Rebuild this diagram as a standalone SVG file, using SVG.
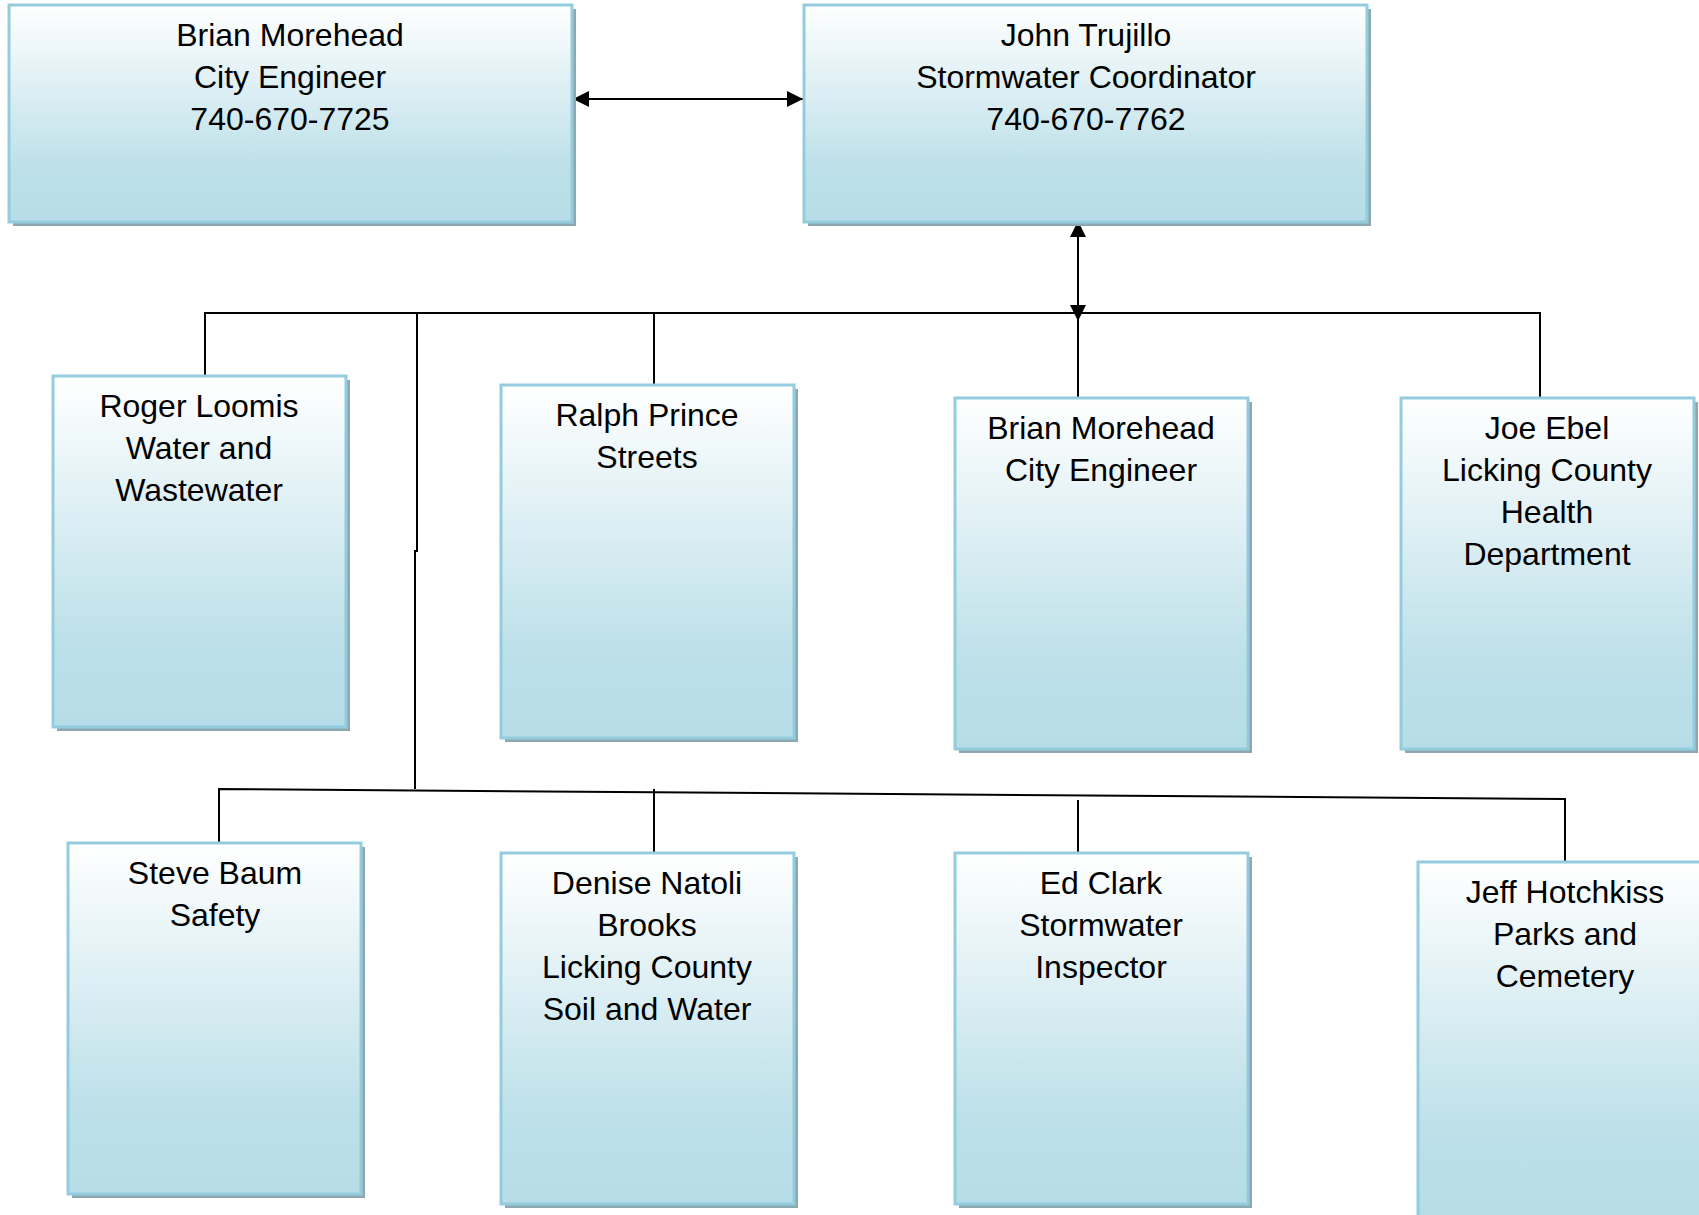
<svg xmlns="http://www.w3.org/2000/svg" width="1699" height="1215" viewBox="0 0 1699 1215">
<defs>
<linearGradient id="g" x1="0" y1="0" x2="0" y2="1">
<stop offset="0" stop-color="#ffffff"/>
<stop offset="0.75" stop-color="#bde0e9"/>
<stop offset="1" stop-color="#b6dde7"/>
</linearGradient>
<marker id="ah" viewBox="0 0 16 16" refX="16" refY="8" markerWidth="16" markerHeight="16" markerUnits="userSpaceOnUse" orient="auto-start-reverse">
<path d="M0,0 L16,8 L0,16 Z" fill="#000"/>
</marker>
<style>
.sh{fill:#8ea8b1}
.bx{fill:url(#g);stroke:#93cddd;stroke-width:3}
.t{font-family:"Liberation Sans",Arial,sans-serif;font-size:32px;fill:#000;text-anchor:middle}
.c{fill:none;stroke:#000;stroke-width:2}
</style>
</defs>
<rect width="1699" height="1215" fill="#fff"/>
<g id="connectors">
<line class="c" x1="573" y1="99" x2="803" y2="99" marker-start="url(#ah)" marker-end="url(#ah)"/>
<line class="c" x1="1078" y1="221" x2="1078" y2="321" marker-start="url(#ah)" marker-end="url(#ah)"/>
<polyline class="c" points="205,376 205,313 1540,313 1540,398"/>
<line class="c" x1="654" y1="313" x2="654" y2="385"/>
<line class="c" x1="1078" y1="313" x2="1078" y2="398"/>
<polyline class="c" points="417,313 417,551 415,551 415,789"/>
<polyline class="c" points="219,843 219,789 1565,799 1565,862"/>
<line class="c" x1="654" y1="789" x2="654" y2="853"/>
<line class="c" x1="1078" y1="800" x2="1078" y2="853"/>
</g>
<g id="n1">
<rect class="sh" x="13" y="9" width="563" height="217"/>
<rect class="bx" x="9" y="5" width="563" height="217"/>
<text class="t" x="290" y="46">Brian Morehead</text>
<text class="t" x="290" y="88">City Engineer</text>
<text class="t" x="290" y="130">740-670-7725</text>
</g>
<g id="n2">
<rect class="sh" x="808" y="9" width="563" height="217"/>
<rect class="bx" x="804" y="5" width="563" height="217"/>
<text class="t" x="1086" y="46">John Trujillo</text>
<text class="t" x="1086" y="88">Stormwater Coordinator</text>
<text class="t" x="1086" y="130">740-670-7762</text>
</g>
<g id="n3">
<rect class="sh" x="57" y="380" width="293" height="351"/>
<rect class="bx" x="53" y="376" width="293" height="351"/>
<text class="t" x="199" y="417">Roger Loomis</text>
<text class="t" x="199" y="459">Water and</text>
<text class="t" x="199" y="501">Wastewater</text>
</g>
<g id="n4">
<rect class="sh" x="505" y="389" width="293" height="353"/>
<rect class="bx" x="501" y="385" width="293" height="353"/>
<text class="t" x="647" y="426">Ralph Prince</text>
<text class="t" x="647" y="468">Streets</text>
</g>
<g id="n5">
<rect class="sh" x="959" y="402" width="293" height="351"/>
<rect class="bx" x="955" y="398" width="293" height="351"/>
<text class="t" x="1101" y="439">Brian Morehead</text>
<text class="t" x="1101" y="481">City Engineer</text>
</g>
<g id="n6">
<rect class="sh" x="1405" y="402" width="293" height="351"/>
<rect class="bx" x="1401" y="398" width="293" height="351"/>
<text class="t" x="1547" y="439">Joe Ebel</text>
<text class="t" x="1547" y="481">Licking County</text>
<text class="t" x="1547" y="523">Health</text>
<text class="t" x="1547" y="565">Department</text>
</g>
<g id="n7">
<rect class="sh" x="72" y="847" width="293" height="351"/>
<rect class="bx" x="68" y="843" width="293" height="351"/>
<text class="t" x="215" y="884">Steve Baum</text>
<text class="t" x="215" y="926">Safety</text>
</g>
<g id="n8">
<rect class="sh" x="505" y="857" width="293" height="351"/>
<rect class="bx" x="501" y="853" width="293" height="351"/>
<text class="t" x="647" y="894">Denise Natoli</text>
<text class="t" x="647" y="936">Brooks</text>
<text class="t" x="647" y="978">Licking County</text>
<text class="t" x="647" y="1020">Soil and Water</text>
</g>
<g id="n9">
<rect class="sh" x="959" y="857" width="293" height="351"/>
<rect class="bx" x="955" y="853" width="293" height="351"/>
<text class="t" x="1101" y="894">Ed Clark</text>
<text class="t" x="1101" y="936">Stormwater</text>
<text class="t" x="1101" y="978">Inspector</text>
</g>
<g id="n10">
<rect class="sh" x="1422" y="866" width="293" height="355"/>
<rect class="bx" x="1418" y="862" width="293" height="355"/>
<text class="t" x="1565" y="903">Jeff Hotchkiss</text>
<text class="t" x="1565" y="945">Parks and</text>
<text class="t" x="1565" y="987">Cemetery</text>
</g>
</svg>
